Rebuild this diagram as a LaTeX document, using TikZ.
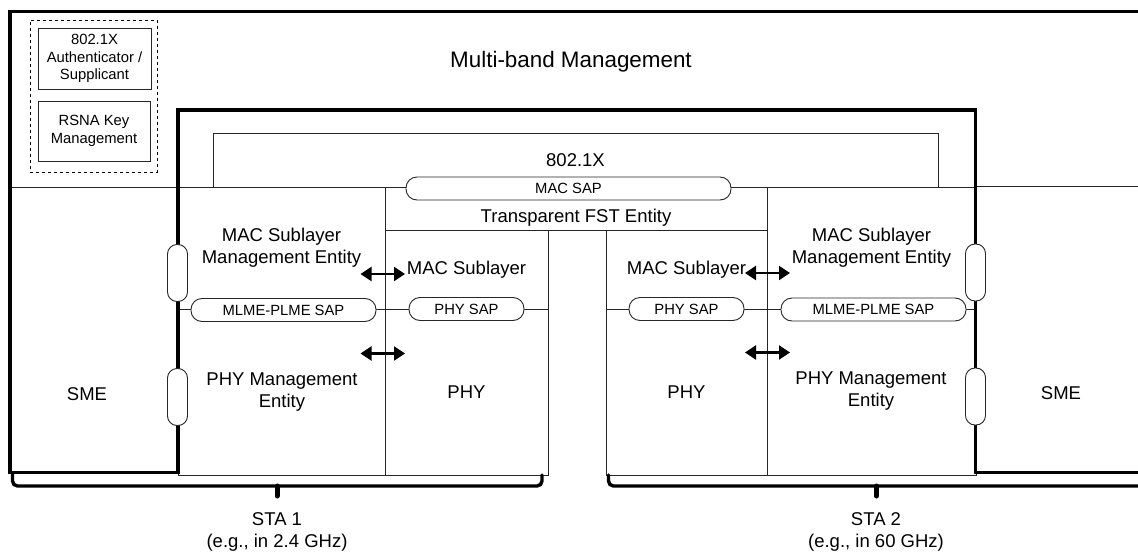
\documentclass[tikz,border=0pt]{standalone}
\usepackage{fontspec}
\setmainfont{Liberation Sans}
\usetikzlibrary{arrows.meta}
\newcommand{\mainsz}{\fontsize{18.5}{22}\selectfont}
\newcommand{\titlesz}{\fontsize{22.4}{26}\selectfont}
\newcommand{\sapsz}{\fontsize{14.8}{17.5}\selectfont}
\tikzset{
  ln/.style={draw=black!85, line width=0.9pt},
  box/.style={ln, rectangle, inner sep=0pt, outer sep=0pt},
  txt/.style={font=\mainsz, align=center, inner sep=0pt},
  sap/.style={ln, fill=white, rounded corners=11pt, inner sep=0pt, outer sep=0pt, minimum height=23pt, font=\sapsz},
  vsap/.style={ln, fill=white, rounded corners=9.5pt, inner sep=0pt, outer sep=0pt, minimum width=20pt, minimum height=57pt},
  frameline/.style={line width=3.8pt, line join=miter, line cap=rect},
  dbl/.style={line width=2.2pt, {Triangle[length=11pt,width=14pt]}-{Triangle[length=11pt,width=14pt]}},
  bracel/.style={line width=3.4pt, rounded corners=5pt, line cap=round},
}
\begin{document}
\begin{tikzpicture}[x=1pt,y=-1pt]
\useasboundingbox (0,0) rectangle (1138,554);

% thin structural boxes
\node[box, minimum width=725pt, minimum height=54pt] (dotx) at (575.5,160) {};
\node[txt] (dotxt) at (575.5,160) {802.1X};
\node[box, minimum width=382pt, minimum height=43pt] (fst) at (576,208.5) {};
\node[txt] (fstt) at (576,218) {Transparent FST Entity};
\node[box, minimum width=207pt, minimum height=288pt] (mgL) at (281.5,331) {};
\node[box, minimum width=209pt, minimum height=288pt] (mgR) at (871.5,331) {};
\node[box, minimum width=163pt, minimum height=79pt, font=\mainsz] (macL) at (466.5,269.5) {MAC Sublayer};
\node[box, minimum width=163pt, minimum height=166pt, font=\mainsz] (phyL) at (466.5,392) {PHY};
\node[box, minimum width=161pt, minimum height=79pt, font=\mainsz] (macR) at (686.5,269.5) {MAC Sublayer};
\node[box, minimum width=161pt, minimum height=166pt, font=\mainsz] (phyR) at (686.5,392) {PHY};

% SME top lines
\coordinate (smeLa) at (10,187);
\coordinate (smeLb) at (178,187);
\coordinate (smeRa) at (976,186);
\coordinate (smeRb) at (1140,186);
\draw[ln] (smeLa) -- (smeLb);
\draw[ln] (smeRa) -- (smeRb);

% SAP lines
\coordinate (sapLa) at (178,309.5);
\coordinate (sapLb) at (548,309.5);
\coordinate (sapRa) at (606,309.5);
\coordinate (sapRb) at (976,309.5);
\draw[ln] (sapLa) -- (sapLb);
\draw[ln] (sapRa) -- (sapRb);

% thick frame
\coordinate (fA) at (1142,11.5);
\coordinate (fB) at (10,11.5);
\coordinate (fC) at (10,472.5);
\coordinate (fD) at (178,472.5);
\coordinate (fE) at (178,110);
\coordinate (fF) at (975.5,110);
\coordinate (fG) at (975.5,472.5);
\coordinate (fH) at (1142,472.5);
\draw[frameline] (fA) -- (fB) -- (fC) -- (fD) -- (fE) -- (fF) -- (fG) -- (fH);

% SAP ovals
\node[sap, minimum width=325pt] (macsap) at (568.5,188.5) {MAC SAP};
\node[sap, minimum width=185pt] (mlmeL) at (283.5,310) {MLME-PLME SAP};
\node[sap, minimum width=115pt] (physapL) at (466.5,309) {PHY SAP};
\node[sap, minimum width=115pt] (physapR) at (686.5,309) {PHY SAP};
\node[sap, minimum width=185pt] (mlmeR) at (873.5,309.5) {MLME-PLME SAP};
\node[vsap] (vL1) at (177.5,273) {};
\node[vsap] (vL2) at (177.5,397) {};
\node[vsap] (vR1) at (975.5,272.5) {};
\node[vsap] (vR2) at (975.5,396.5) {};

% texts
\node[font=\titlesz, inner sep=0pt] (title) at (571,62) {Multi-band Management};
\node[txt] (msmeL) at (281.5,248) {MAC Sublayer\\Management Entity};
\node[txt] (pmeL) at (282,392) {PHY Management\\Entity};
\node[txt] (msmeR) at (871.5,248) {MAC Sublayer\\Management Entity};
\node[txt] (pmeR) at (871,391) {PHY Management\\Entity};
\node[txt] (smeL) at (87,394) {SME};
\node[txt] (smeR) at (1061,393) {SME};

% dashed group
\node[draw, dashed, line width=1pt, inner sep=0pt, minimum width=127pt, minimum height=152pt] (grp) at (93.5,96) {};
\node[box, minimum width=113pt, minimum height=61pt, font=\sapsz, align=center] (auth) at (94.5,58.5) {802.1X\\Authenticator /\\Supplicant};
\node[box, minimum width=112pt, minimum height=60pt, font=\sapsz, align=center] (rsna) at (94,131) {RSNA Key\\Management};

% arrows
\coordinate (a1a) at (360.5,274);
\coordinate (a1b) at (405,274);
\coordinate (a2a) at (360.5,353.5);
\coordinate (a2b) at (405,353.5);
\coordinate (a3a) at (745,273);
\coordinate (a3b) at (790,273);
\coordinate (a4a) at (745,352.5);
\coordinate (a4b) at (790,352.5);
\draw[dbl] (a1a) -- (a1b);
\draw[dbl] (a2a) -- (a2b);
\draw[dbl] (a3a) -- (a3b);
\draw[dbl] (a4a) -- (a4b);

% braces
\coordinate (b1a) at (12.5,474);
\coordinate (b1c) at (12.5,486);
\coordinate (b1d) at (542,486);
\coordinate (b1e) at (542,475);
\coordinate (b1m) at (277,486);
\coordinate (b1t) at (277,496);
\draw[bracel] (b1a) -- (b1c) -- (b1d) -- (b1e);
\draw[line width=5pt, line cap=round] (b1m) -- (b1t);
\coordinate (b2a) at (608.5,475);
\coordinate (b2c) at (608.5,486);
\coordinate (b2d) at (1145,486);
\coordinate (b2m) at (876.5,486);
\coordinate (b2t) at (876.5,496);
\draw[bracel] (b2a) -- (b2c) -- (b2d);
\draw[line width=5pt, line cap=round] (b2m) -- (b2t);

\node[txt] (sta1) at (277,532) {STA 1\\(e.g., in 2.4 GHz)};
\node[txt] (sta2) at (876,532) {STA 2\\(e.g., in 60 GHz)};
\end{tikzpicture}
\end{document}
